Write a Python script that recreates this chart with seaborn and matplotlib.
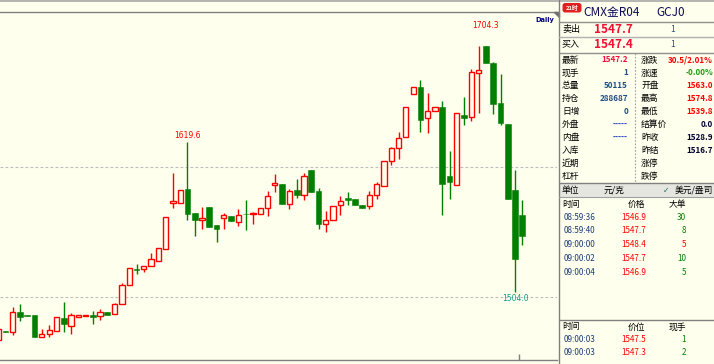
import numpy as np
import pandas as pd
import matplotlib
matplotlib.use("Agg")
import matplotlib.pyplot as plt
import seaborn as sns
from matplotlib.patches import FancyBboxPatch, Rectangle, Polygon

# ---------------- data ----------------
open_ = [1466.9, 1474.1, 1473.1, 1488.5, 1486.2, 1486.2, 1469.0, 1471.5, 1473.8, 1483.8,
         1477.7, 1484.6, 1485.4, 1486.2, 1485.4, 1488.5, 1486.9, 1495.0, 1509.2, 1521.5,
         1521.5, 1523.8, 1527.7, 1536.9, 1572.3, 1572.3, 1583.1, 1564.6, 1559.2, 1569.2,
         1555.4, 1560.8, 1562.3, 1557.7, 1564.2, 1564.2, 1563.8, 1568.5, 1586.2, 1586.9,
         1571.5, 1582.3, 1578.5, 1597.7, 1581.5, 1556.2, 1559.2, 1570.8, 1575.8, 1575.4,
         1570.8, 1570.0, 1578.5, 1585.4, 1604.6, 1614.6, 1623.1, 1656.2, 1661.5, 1637.7,
         1643.1, 1646.2, 1593.1, 1586.2, 1640.0, 1638.5, 1672.3, 1693.1, 1680.0, 1649.2,
         1633.1, 1582.3, 1563.0]
high = [1475.4, 1474.1, 1492.3, 1494.6, 1486.2, 1486.2, 1475.4, 1478.5, 1484.6, 1496.2,
        1487.7, 1486.2, 1486.2, 1489.2, 1490.8, 1488.5, 1495.4, 1510.8, 1522.3, 1525.4,
        1523.8, 1533.8, 1537.7, 1561.5, 1595.4, 1582.3, 1619.6, 1564.6, 1569.2, 1569.2,
        1555.4, 1564.6, 1562.3, 1567.7, 1574.6, 1565.4, 1568.5, 1581.5, 1594.6, 1586.9,
        1583.1, 1590.8, 1595.4, 1597.7, 1583.8, 1566.2, 1570.0, 1577.7, 1580.8, 1575.4,
        1570.8, 1581.5, 1588.5, 1604.6, 1615.4, 1626.9, 1646.2, 1661.5, 1666.9, 1656.9,
        1646.2, 1650.8, 1612.3, 1641.5, 1653.8, 1675.4, 1693.1, 1693.1, 1680.8, 1671.5,
        1633.1, 1597.7, 1574.8]
low = [1466.9, 1472.8, 1470.8, 1481.8, 1485.4, 1469.2, 1469.0, 1469.0, 1473.8, 1473.1,
       1471.5, 1484.6, 1485.4, 1479.2, 1482.3, 1486.2, 1486.9, 1495.0, 1509.2, 1517.7,
       1519.2, 1523.8, 1527.7, 1536.9, 1568.5, 1572.3, 1559.2, 1546.9, 1552.3, 1553.8,
       1542.3, 1552.3, 1558.5, 1554.6, 1551.5, 1556.2, 1563.8, 1562.3, 1580.8, 1571.5,
       1567.7, 1576.2, 1574.6, 1580.8, 1552.3, 1550.0, 1559.2, 1563.1, 1570.8, 1570.8,
       1568.5, 1567.7, 1575.4, 1585.4, 1601.5, 1606.2, 1623.1, 1656.2, 1626.9, 1626.2,
       1643.1, 1563.1, 1575.4, 1586.2, 1632.3, 1635.4, 1641.5, 1680.0, 1640.8, 1632.3,
       1575.4, 1504.0, 1539.8]
close = [1475.4, 1472.8, 1488.5, 1484.6, 1485.4, 1469.2, 1471.5, 1475.0, 1484.6, 1479.2,
         1486.2, 1486.2, 1486.2, 1485.0, 1488.5, 1486.2, 1494.6, 1509.2, 1522.3, 1520.8,
         1523.8, 1529.2, 1537.7, 1561.5, 1573.8, 1582.3, 1563.8, 1559.2, 1560.8, 1553.8,
         1552.3, 1563.1, 1558.5, 1563.1, 1563.5, 1564.6, 1568.5, 1577.7, 1587.7, 1571.5,
         1581.5, 1578.5, 1593.1, 1580.8, 1556.2, 1559.2, 1570.0, 1573.8, 1575.0, 1570.8,
         1568.5, 1578.5, 1586.9, 1604.6, 1614.6, 1622.3, 1646.2, 1661.5, 1636.2, 1643.1,
         1646.2, 1586.9, 1588.8, 1641.5, 1637.7, 1673.1, 1674.6, 1680.0, 1648.5, 1633.8,
         1575.4, 1528.9, 1547.2]

grid_levels = [1500, 1600]
extreme_idx = [26, 67, 71]
extreme_txt = ["1619.6", "1704.3", "1504.0"]
extreme_val = [1619.6, 1704.3, 1504.0]
extreme_pos = ["above", "above", "below"]
session_break = [71.5]

title_badge = "21时"
title_name = "CMX金R04"
title_code = "GCJ0"
sell_label, sell_price, sell_vol = "卖出", "1547.7", "1"
buy_label, buy_price, buy_vol = "买入", "1547.4", "1"

left_labels = ["最新", "现手", "总量", "持仓", "日增", "外盘", "内盘", "入库", "近期", "杠杆"]
left_values = ["1547.2", "1", "50115", "288687", "0", "-----", "-----", "", "", ""]
right_labels = ["涨跌", "涨速", "开盘", "最高", "最低", "结算价", "昨收", "昨结", "涨停", "跌停"]
right_values = ["30.5/2.01%", "-0.00%", "1563.0", "1574.8", "1539.8", "0.0", "1528.9", "1516.7", "", ""]

unit_row = ["单位", "元/克", "✓", "美元/盎司"]
tick_header = ["时间", "价格", "大单"]
tick_times = ["08:59:36", "08:59:40", "09:00:00", "09:00:02", "09:00:04"]
tick_prices = ["1546.9", "1547.7", "1548.4", "1547.7", "1546.9"]
tick_big = ["30", "8", "5", "10", "5"]
tick_big_up = [False, False, True, False, False]

trade_header = ["时间", "价位", "现手"]
trade_times = ["09:00:03", "09:00:03"]
trade_prices = ["1547.5", "1547.3"]
trade_vols = ["1", "2"]

# ---------------- style ----------------
BG = "#FFFFEE"
RED = "#FF0000"
GREEN = "#007F00"
NAVY = "#1E4E86"
sns.set_theme(style="white", rc={"axes.facecolor": BG, "figure.facecolor": BG})
plt.rcParams["font.family"] = ["Noto Sans CJK SC", "DejaVu Sans"]

W, H = 714, 364
fig = plt.figure(figsize=(W / 100, H / 100), dpi=100)
ax = fig.add_axes([0, 4 / H, 557 / W, 348 / H])
ax.set_facecolor(BG)

df = pd.DataFrame({"o": open_, "h": high, "l": low, "c": close})
df["x"] = np.arange(len(df))
up = df[df.c >= df.o]
dn = df[df.c < df.o]

# wicks
ax.vlines(dn.x, dn.l, dn.h, color=GREEN, lw=1.0, zorder=2)
ax.vlines(up.x, np.maximum(up.o, up.c), up.h, color=RED, lw=1.0, zorder=2)
ax.vlines(up.x, up.l, np.minimum(up.o, up.c), color=RED, lw=1.0, zorder=2)
# bodies
ax.bar(dn.x, dn.o - dn.c, bottom=dn.c, width=0.8, color=GREEN, edgecolor=GREEN, lw=0.4, zorder=3)
ax.bar(up.x, up.c - up.o, bottom=up.o, width=0.72, facecolor=BG, edgecolor=RED, lw=1.0, zorder=3)

for g in grid_levels:
    ax.axhline(g, color="#BDBDBD", lw=0.8, ls=(0, (2.5, 2)), zorder=1)

for i, t, v, p in zip(extreme_idx, extreme_txt, extreme_val, extreme_pos):
    if p == "above":
        ax.annotate(t, xy=(i, v), xytext=(0, 1), textcoords="offset points", ha="center",
                    va="bottom", fontsize=5.5, color=RED, family="DejaVu Sans")
    else:
        ax.annotate(t, xy=(i, v), xytext=(0, -1.5), textcoords="offset points", ha="center",
                    va="top", fontsize=5.5, color="#11998A", family="DejaVu Sans")

ax.set_xlim(0.25, 76.76)
ax.set_ylim(1451.54, 1719.23)
ax.set_yticks([])
ax.set_xticks(session_break)
ax.tick_params(axis="x", direction="in", length=4, width=1, color="#808080", labelbottom=False,
               bottom=True)
for s in ["left", "right"]:
    ax.spines[s].set_visible(False)
for s in ["top", "bottom"]:
    ax.spines[s].set_color("#808080")
    ax.spines[s].set_linewidth(1.0)
ax.text(0.995, 0.985, "Daily", transform=ax.transAxes, ha="right", va="top",
        fontsize=4.8, color="#000080", family="DejaVu Sans", weight="bold")

# ---------------- overlay / side panel ----------------
ov = fig.add_axes([0, 0, 1, 1])
ov.set_xlim(0, W)
ov.set_ylim(H, 0)
ov.axis("off")
ov.patch.set_alpha(0)

ov.plot([0, W], [0.6, 0.6], color="#A8A8A8", lw=1.2)
ov.plot([558.5, 558.5], [0, H], color="#808080", lw=1.0)
ov.add_patch(Polygon([[554, 12], [559, 12], [559, 17]], closed=True, color="#707070"))

# title
ov.add_patch(FancyBboxPatch((563.5, 4), 17, 7.5, boxstyle="round,pad=0.3,rounding_size=2",
                            fc="#E02020", ec="#E02020"))
ov.text(572, 8, title_badge, color="white", fontsize=4.2, ha="center", va="center", weight="bold")
ov.text(583.5, 12.5, title_name, color="#0A0A5A", fontsize=8.5, ha="left", va="center")
ov.text(656, 12.5, title_code, color="#0A0A5A", fontsize=8.5, ha="left", va="center")

for yy, c in [(22, "#909090"), (37, "#B0B0B0"), (52.5, "#909090")]:
    ov.plot([559, W], [yy, yy], color=c, lw=1.0)

for yy, lab, pr, vol in [(29.5, sell_label, sell_price, sell_vol), (44.5, buy_label, buy_price, buy_vol)]:
    ov.text(562, yy, lab, fontsize=6.5, ha="left", va="center", color="black")
    ov.text(594, yy, pr, fontsize=8.5, ha="left", va="center", color="#F01030", weight="bold")
    ov.text(673, yy, vol, fontsize=6, ha="center", va="center", color=NAVY)

row_y = [60 + 12.9 * k for k in range(len(left_labels))]
left_colors = ["#F01040", NAVY, NAVY, NAVY, NAVY, "#2040C0", "#2040C0", NAVY, NAVY, NAVY]
right_colors = [RED, "#10A010", RED, RED, RED, "#000030", "#000030", "#000030", "#000030", "#000030"]
for yy, lab, val, col in zip(row_y, left_labels, left_values, left_colors):
    ov.text(562, yy, lab, fontsize=6.3, ha="left", va="center", color="black")
    ov.text(628, yy, val, fontsize=5.8, ha="right", va="center", color=col, weight="bold")
for yy, lab, val, col in zip(row_y, right_labels, right_values, right_colors):
    ov.text(641, yy, lab, fontsize=6.3, ha="left", va="center", color="black")
    ov.text(713, yy, val, fontsize=5.8, ha="right", va="center", color=col, weight="bold")
ov.plot([634.5, 634.5], [53, 183], color="#A0A0A0", lw=0.8, ls=(0, (1.5, 1.5)))

# unit row
ov.add_patch(Rectangle((559, 183), W - 559, 14, fc="#E6E6E0", ec="none"))
ov.plot([559, W], [183, 183], color="#808080", lw=1.0)
ov.plot([559, W], [197, 197], color="#A0A0A0", lw=0.8)
ov.text(562, 190, unit_row[0], fontsize=6.3, ha="left", va="center", color="black")
ov.text(604, 190, unit_row[1], fontsize=6.3, ha="left", va="center", color="black")
ov.text(666, 190, unit_row[2], fontsize=5.5, ha="center", va="center", color="#207070",
        family="DejaVu Sans")
ov.text(713, 190, unit_row[3], fontsize=6.3, ha="right", va="center", color="black")

# tick list
ov.text(562, 204.5, tick_header[0], fontsize=6.3, ha="left", va="center", color="black")
ov.text(636, 204.5, tick_header[1], fontsize=6.3, ha="center", va="center", color="black")
ov.text(686, 204.5, tick_header[2], fontsize=6.3, ha="right", va="center", color="black")
for k, (t, p, b, u) in enumerate(zip(tick_times, tick_prices, tick_big, tick_big_up)):
    yy = 217 + 13.8 * k
    ov.text(564, yy, t, fontsize=5.8, ha="left", va="center", color="#1A3A78")
    ov.text(634, yy, p, fontsize=5.8, ha="center", va="center", color=RED)
    ov.text(686, yy, b, fontsize=5.8, ha="right", va="center", color=RED if u else GREEN)

# trade list
ov.plot([559, W], [319.5, 319.5], color="#808080", lw=1.0)
ov.text(562, 327, trade_header[0], fontsize=6.3, ha="left", va="center", color="black")
ov.text(636, 327, trade_header[1], fontsize=6.3, ha="center", va="center", color="black")
ov.text(686, 327, trade_header[2], fontsize=6.3, ha="right", va="center", color="black")
for k, (t, p, v) in enumerate(zip(trade_times, trade_prices, trade_vols)):
    yy = 340 + 12.8 * k
    ov.text(564, yy, t, fontsize=5.8, ha="left", va="center", color="#1A3A78")
    ov.text(634, yy, p, fontsize=5.8, ha="center", va="center", color=RED)
    ov.text(686, yy, v, fontsize=5.8, ha="right", va="center", color=GREEN)

fig.savefig("out.png", dpi=100, facecolor=BG)
